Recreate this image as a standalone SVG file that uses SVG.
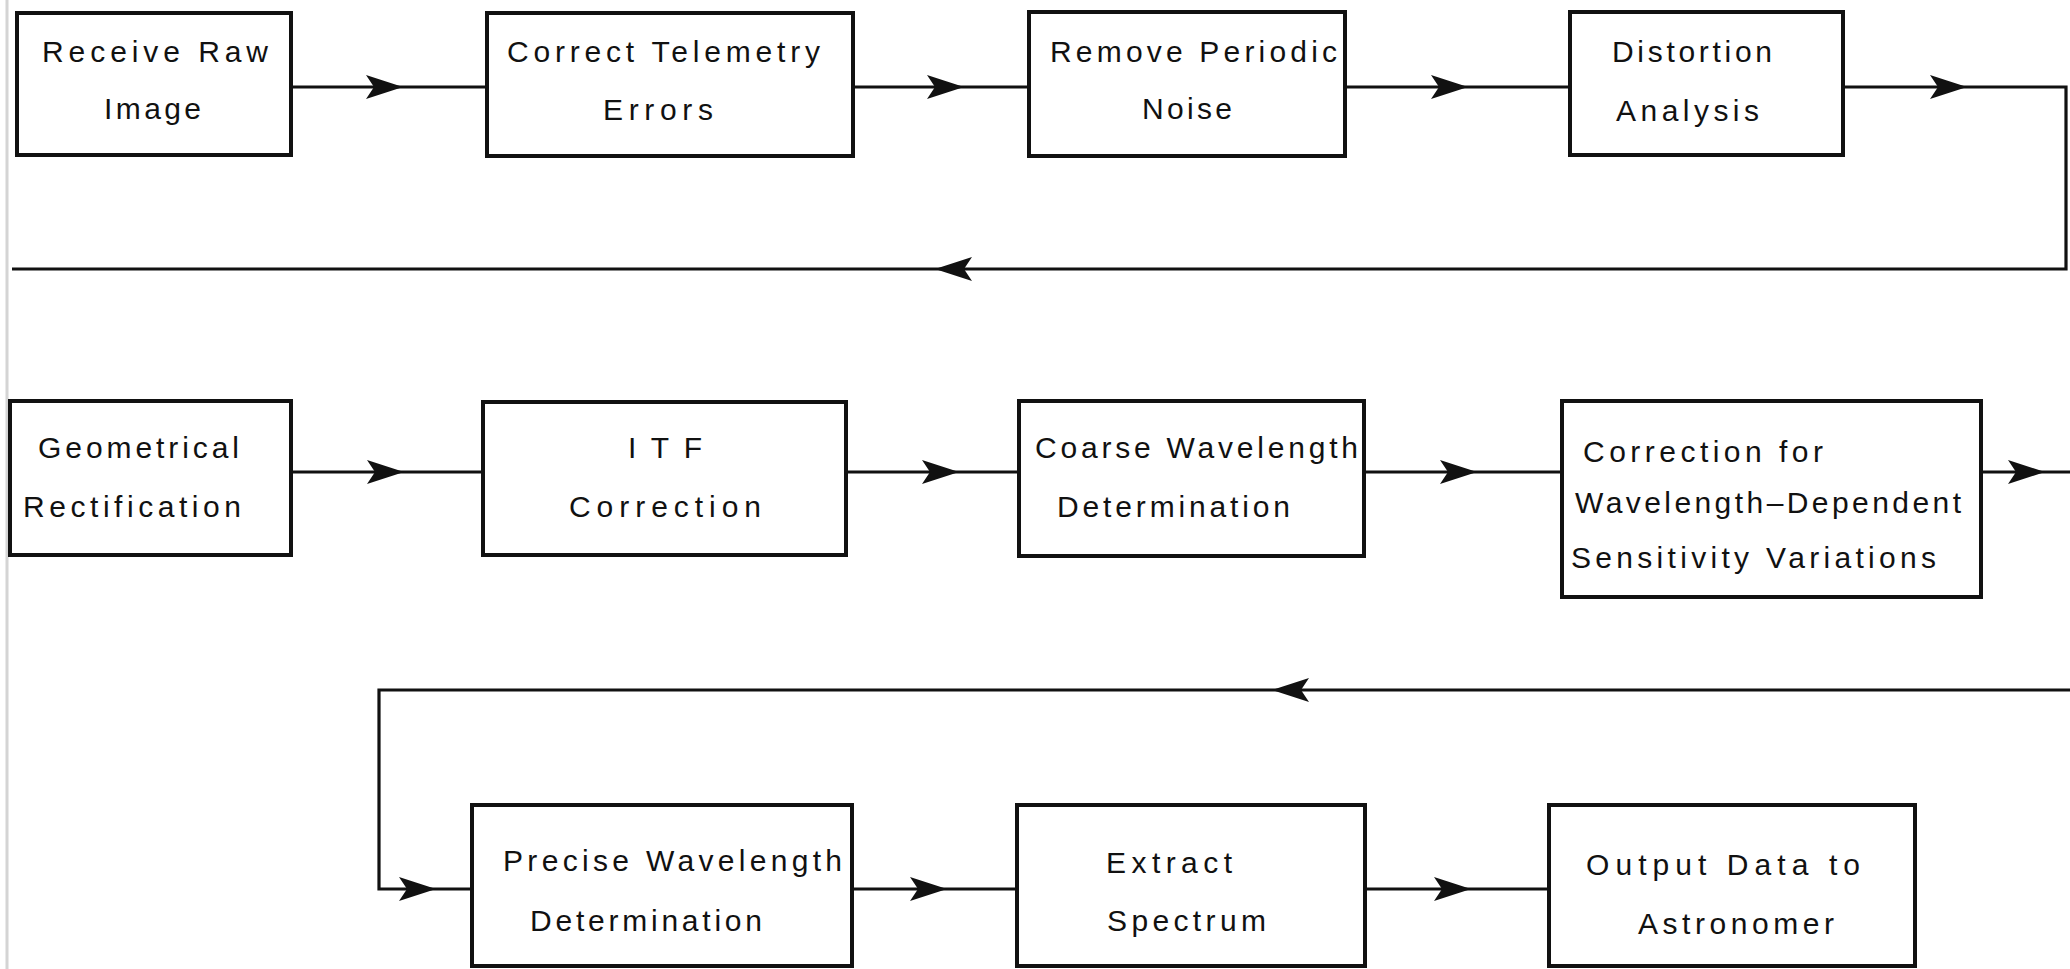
<svg xmlns="http://www.w3.org/2000/svg" xmlns:xlink="http://www.w3.org/1999/xlink" width="2070" height="969" viewBox="0 0 2070 969">
<style>
.box{fill:#fff;stroke:#111;stroke-width:4}
.lbl{font-family:"Liberation Sans","DejaVu Sans",sans-serif;font-size:30px;fill:#111}
.con{fill:none;stroke:#111;stroke-width:3.2;stroke-linejoin:miter}
.ah{fill:#111}
</style>
<defs>
<path id="ah" d="M0,0 L-37,-12 L-29,0 L-37,12 Z"/>
</defs>
<rect width="2070" height="969" fill="#fff"/>
<line x1="7" y1="0" x2="7" y2="969" stroke="#d4d4d4" stroke-width="3"/>
<g id="connectors">
<path class="con" d="M291,87 H487"/>
<path class="con" d="M853,87 H1029"/>
<path class="con" d="M1345,87 H1570"/>
<path class="con" d="M1843,87 H2066 V269 H12"/>
<path class="con" d="M291,472 H483"/>
<path class="con" d="M846,472 H1019"/>
<path class="con" d="M1364,472 H1562"/>
<path class="con" d="M1981,472 H2070"/>
<path class="con" d="M2070,690 H379 V889 H472"/>
<path class="con" d="M852,889 H1017"/>
<path class="con" d="M1365,889 H1549"/>
<g class="ah">
<use xlink:href="#ah" transform="translate(403,87)"/>
<use xlink:href="#ah" transform="translate(964,87)"/>
<use xlink:href="#ah" transform="translate(1468,87)"/>
<use xlink:href="#ah" transform="translate(1967,87)"/>
<use xlink:href="#ah" transform="translate(935,269) rotate(180)"/>
<use xlink:href="#ah" transform="translate(404,472)"/>
<use xlink:href="#ah" transform="translate(959,472)"/>
<use xlink:href="#ah" transform="translate(1477,472)"/>
<use xlink:href="#ah" transform="translate(2045,472)"/>
<use xlink:href="#ah" transform="translate(1272,690) rotate(180)"/>
<use xlink:href="#ah" transform="translate(436,889)"/>
<use xlink:href="#ah" transform="translate(947,889)"/>
<use xlink:href="#ah" transform="translate(1471,889)"/>
</g>
</g>
<g id="n1"><rect class="box" x="17" y="13" width="274" height="142"/>
<text class="lbl" x="42" y="62" textLength="226" lengthAdjust="spacing">Receive Raw</text>
<text class="lbl" x="104" y="119" textLength="97" lengthAdjust="spacing">Image</text></g>
<g id="n2"><rect class="box" x="487" y="13" width="366" height="143"/>
<text class="lbl" x="507" y="62" textLength="313" lengthAdjust="spacing">Correct Telemetry</text>
<text class="lbl" x="603" y="120" textLength="110" lengthAdjust="spacing">Errors</text></g>
<g id="n3"><rect class="box" x="1029" y="12" width="316" height="144"/>
<text class="lbl" x="1050" y="62" textLength="287" lengthAdjust="spacing">Remove Periodic</text>
<text class="lbl" x="1142" y="119" textLength="90" lengthAdjust="spacing">Noise</text></g>
<g id="n4"><rect class="box" x="1570" y="12" width="273" height="143"/>
<text class="lbl" x="1612" y="62" textLength="160" lengthAdjust="spacing">Distortion</text>
<text class="lbl" x="1616" y="121" textLength="143" lengthAdjust="spacing">Analysis</text></g>
<g id="n5"><rect class="box" x="10" y="401" width="281" height="154"/>
<text class="lbl" x="38" y="458" textLength="201" lengthAdjust="spacing">Geometrical</text>
<text class="lbl" x="23" y="517" textLength="218" lengthAdjust="spacing">Rectification</text></g>
<g id="n6"><rect class="box" x="483" y="402" width="363" height="153"/>
<text class="lbl" x="628" y="458" textLength="74" lengthAdjust="spacing">ITF</text>
<text class="lbl" x="569" y="517" textLength="192" lengthAdjust="spacing">Correction</text></g>
<g id="n7"><rect class="box" x="1019" y="401" width="345" height="155"/>
<text class="lbl" x="1035" y="458" textLength="323" lengthAdjust="spacing">Coarse Wavelength</text>
<text class="lbl" x="1057" y="517" textLength="233" lengthAdjust="spacing">Determination</text></g>
<g id="n8"><rect class="box" x="1562" y="401" width="419" height="196"/>
<text class="lbl" x="1583" y="462" textLength="240" lengthAdjust="spacing">Correction for</text>
<text class="lbl" x="1575" y="513" textLength="386" lengthAdjust="spacing">Wavelength–Dependent</text>
<text class="lbl" x="1571" y="568" textLength="365" lengthAdjust="spacing">Sensitivity Variations</text></g>
<g id="n9"><rect class="box" x="472" y="805" width="380" height="161"/>
<text class="lbl" x="503" y="871" textLength="339" lengthAdjust="spacing">Precise Wavelength</text>
<text class="lbl" x="530" y="931" textLength="232" lengthAdjust="spacing">Determination</text></g>
<g id="n10"><rect class="box" x="1017" y="805" width="348" height="161"/>
<text class="lbl" x="1106" y="873" textLength="126" lengthAdjust="spacing">Extract</text>
<text class="lbl" x="1107" y="931" textLength="159" lengthAdjust="spacing">Spectrum</text></g>
<g id="n11"><rect class="box" x="1549" y="805" width="366" height="161"/>
<text class="lbl" x="1586" y="875" textLength="274" lengthAdjust="spacing">Output Data to</text>
<text class="lbl" x="1638" y="934" textLength="196" lengthAdjust="spacing">Astronomer</text></g>
</svg>
